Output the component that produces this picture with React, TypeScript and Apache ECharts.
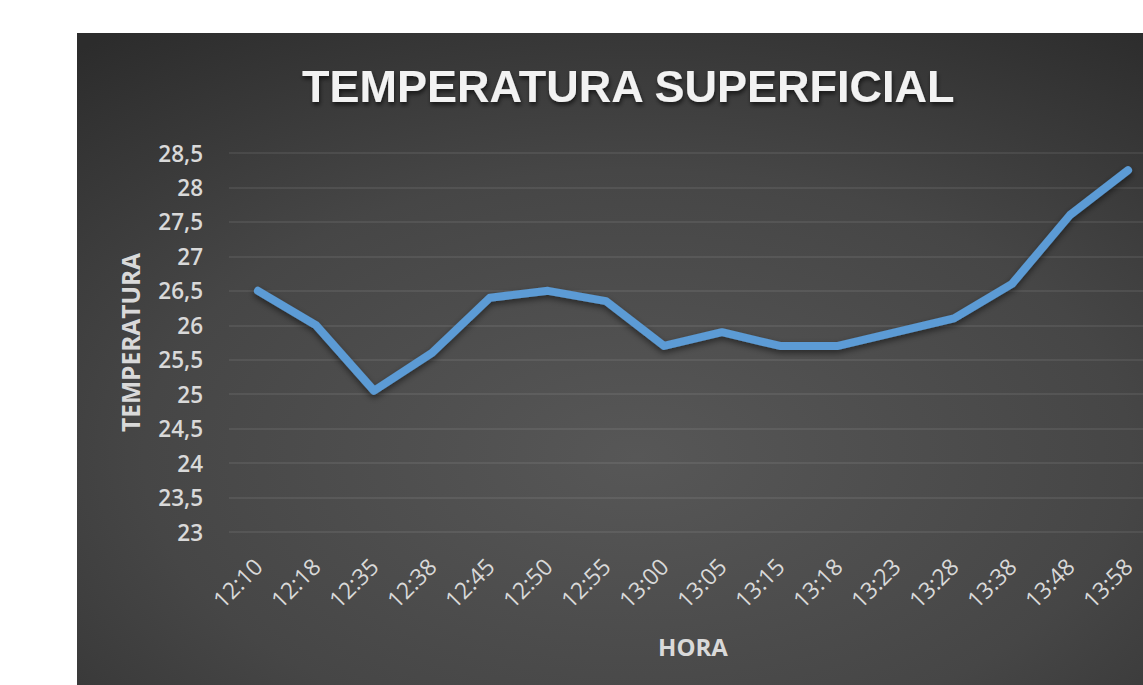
import React, { useEffect, useRef } from "react";
import * as echarts from "echarts";

const categories = ["12:10", "12:18", "12:35", "12:38", "12:45", "12:50", "12:55", "13:00", "13:05", "13:15", "13:18", "13:23", "13:28", "13:38", "13:48", "13:58"];
const temperatures = [26.5, 26.0, 25.05, 25.6, 26.4, 26.5, 26.35, 25.7, 25.9, 25.7, 25.7, 25.9, 26.1, 26.6, 27.6, 28.25];
const yMin = 23;
const yMax = 28.5;
const yStep = 0.5;
const titleText = "TEMPERATURA SUPERFICIAL";
const xName = "HORA";
const yName = "TEMPERATURA";

export default function App() {
  const ref = useRef<HTMLDivElement>(null);
  useEffect(() => {
    if (!ref.current) return;
    const chart = echarts.init(ref.current, undefined, { renderer: "svg" });
    const font = "'Open Sans', 'Noto Sans', sans-serif";
    chart.setOption({
      animation: false,
      backgroundColor: {
        type: "radial",
        x: 0.5,
        y: 0.65,
        r: 0.8,
        colorStops: [
          { offset: 0, color: "#575757" },
          { offset: 0.55, color: "#464646" },
          { offset: 1, color: "#2c2c2c" },
        ],
      },
      title: {
        text: titleText,
        left: 220,
        top: 26,
        textStyle: {
          color: "#f2f2f2",
          fontFamily: "'Liberation Sans', Arial, sans-serif",
          fontWeight: "bold",
          fontSize: 45,
          textShadowColor: "rgba(0,0,0,0.6)",
          textShadowBlur: 4,
          textShadowOffsetX: 1,
          textShadowOffsetY: 3,
        },
      },
      grid: {
        left: 152,
        top: 120,
        right: 40,
        bottom: 153,
        containLabel: false,
        outerBoundsMode: "none",
      },
      xAxis: {
        type: "category",
        data: categories,
        boundaryGap: true,
        name: xName,
        nameLocation: "middle",
        nameGap: 102,
        nameTextStyle: { color: "#d9d9d9", fontFamily: font, fontWeight: "bold", fontSize: 24 },
        axisLine: { show: false },
        axisTick: { show: false },
        axisLabel: {
          rotate: 45,
          margin: 30,
          color: "#d9d9d9",
          fontFamily: font,
          fontSize: 23,
          interval: 0,
        },
        splitLine: { show: false },
      },
      yAxis: {
        type: "value",
        min: yMin,
        max: yMax,
        interval: yStep,
        name: yName,
        nameLocation: "middle",
        nameGap: 86,
        nameTextStyle: { color: "#d9d9d9", fontFamily: font, fontWeight: "bold", fontSize: 24.5 },
        axisLine: { show: false },
        axisTick: { show: false },
        axisLabel: {
          margin: 26,
          color: "#d9d9d9",
          fontFamily: font,
          fontWeight: 600,
          fontSize: 22.5,
          formatter: (v: number) => String(v).replace(".", ","),
        },
        splitLine: { show: true, lineStyle: { color: "rgba(255,255,255,0.1)", width: 1.5 } },
      },
      series: [
        {
          type: "line",
          data: temperatures,
          showSymbol: false,
          symbol: "none",
          lineStyle: {
            color: "#5b9bd5",
            width: 8,
            cap: "round",
            join: "round",
            shadowColor: "rgba(0,0,0,0.5)",
            shadowBlur: 6,
            shadowOffsetY: 3,
          },
          itemStyle: { color: "#5b9bd5" },
        },
      ],
    });
    return () => chart.dispose();
  }, []);
  return (
    <div style={{ position: "fixed", left: 0, top: 0, width: 1143, height: 685, overflow: "hidden", background: "#ffffff" }}>
      <div ref={ref} style={{ position: "absolute", left: 77, top: 33, width: 1120, height: 652 }} />
    </div>
  );
}
